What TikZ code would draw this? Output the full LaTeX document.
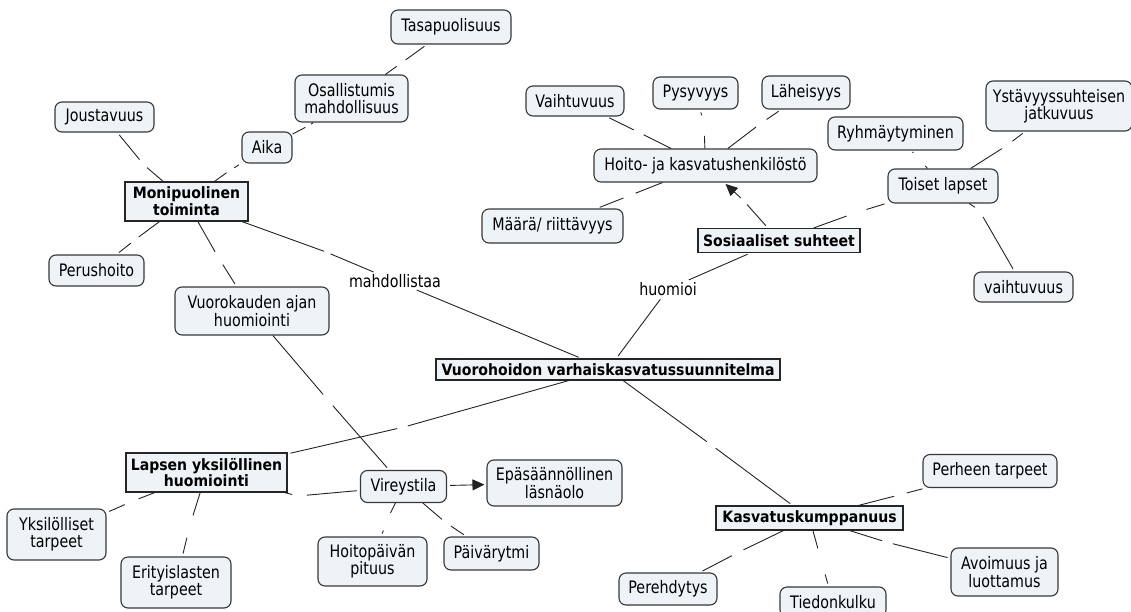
\documentclass[tikz,border=0pt]{standalone}
\usepackage{fontspec}
\setmainfont{DejaVu Sans}[FakeStretch=0.83]
\newfontfamily\bfam{DejaVu Sans}[FakeStretch=0.9]
\usetikzlibrary{arrows.meta}
\definecolor{fillc}{RGB}{237,243,246}
\definecolor{bordc}{RGB}{55,55,55}
\definecolor{linec}{RGB}{35,35,35}
\newcommand\nfnt{\fontsize{17.2}{17.4}\selectfont}
\newcommand\bfnt{\bfam\bfseries\fontsize{15.6}{16.8}\selectfont}
\newcommand\lnk[3]{\draw[link] (#1) -- (#2) -- (#3);}
\tikzset{
  concept/.style={draw=bordc, fill=fillc, rounded corners=7pt, line width=1.1pt,
    align=center, font=\nfnt, inner sep=0pt},
  keybox/.style={draw=black!85, fill=fillc, line width=1.1pt, align=center,
    font=\bfnt, inner sep=0pt},
  plainlbl/.style={font=\nfnt, inner sep=1pt},
  gapn/.style={circle, inner sep=0pt, outer sep=0pt, minimum size=#1},
  gapn/.default=8pt,
  link/.style={draw=linec, line width=0.9pt, shorten <=3pt, shorten >=3pt},
  arrowl/.style={link, -{Triangle[length=12pt,width=11pt]}}
}
\begin{document}
\begin{tikzpicture}[x=1pt,y=-1pt]
\useasboundingbox (0,0) rectangle (1131,612);
% concepts
\node[concept, minimum width=120pt, minimum height=34pt] (tas) at (451,27) {Tasapuolisuus};
\node[concept, minimum width=113pt, minimum height=47pt] (osa) at (351.5,98.5) {Osallistumis\\mahdollisuus};
\node[concept, minimum width=99pt, minimum height=30pt] (jou) at (104.5,117) {Joustavuus};
\node[concept, minimum width=50pt, minimum height=31pt] (aika) at (267,147.5) {Aika};
\node[keybox, minimum width=123pt, minimum height=39pt] (mon) at (186.5,201.5) {Monipuolinen\\toiminta};
\node[concept, minimum width=95pt, minimum height=31pt] (per) at (96.5,270.5) {Perushoito};
\node[concept, minimum width=154pt, minimum height=48pt] (vuo) at (252,311) {Vuorokauden ajan\\huomiointi};
\node[concept, minimum width=98pt, minimum height=30pt] (vai) at (575,101) {Vaihtuvuus};
\node[concept, minimum width=85pt, minimum height=32pt] (pys) at (695.5,93) {Pysyvyys};
\node[concept, minimum width=88pt, minimum height=33pt] (lah) at (806,92.5) {Läheisyys};
\node[concept, minimum width=223pt, minimum height=33pt] (hoi) at (705.5,165.5) {Hoito- ja kasvatushenkilöstö};
\node[concept, minimum width=141pt, minimum height=34pt] (maa) at (552.5,226) {Määrä/ riittävyys};
\node[concept, minimum width=135pt, minimum height=33pt] (ryh) at (895.5,133.5) {Ryhmäytyminen};
\node[concept, minimum width=146pt, minimum height=50pt] (yst) at (1059,106) {Ystävyyssuhteisen\\jatkuvuus};
\node[concept, minimum width=110pt, minimum height=34pt] (toi) at (943,186) {Toiset lapset};
\node[keybox, minimum width=162pt, minimum height=24pt] (sos) at (779,240.5) {Sosiaaliset suhteet};
\node[concept, minimum width=99pt, minimum height=30pt] (vai2) at (1023.5,287) {vaihtuvuus};
\node[keybox, minimum width=344pt, minimum height=21pt] (vrh) at (608,369.5) {Vuorohoidon varhaiskasvatussuunnitelma};
\node[keybox, minimum width=161pt, minimum height=39pt] (lap) at (206.5,472.5) {Lapsen yksilöllinen\\huomiointi};
\node[concept, minimum width=86pt, minimum height=32pt] (vir) at (403.5,486.5) {Vireystila};
\node[concept, minimum width=135pt, minimum height=46pt] (epa) at (554.5,483) {Epäsäännöllinen\\läsnäolo};
\node[concept, minimum width=99pt, minimum height=51pt] (yks) at (56.5,534.5) {Yksilölliset\\tarpeet};
\node[concept, minimum width=110pt, minimum height=51pt] (eri) at (176,582.5) {Erityislasten\\tarpeet};
\node[concept, minimum width=109pt, minimum height=49pt] (hpp) at (372.5,561.5) {Hoitopäivän\\pituus};
\node[concept, minimum width=95pt, minimum height=33pt] (pai) at (491.5,553.5) {Päivärytmi};
\node[keybox, minimum width=187pt, minimum height=24pt] (kas) at (809.5,518) {Kasvatuskumppanuus};
\node[concept, minimum width=134pt, minimum height=33pt] (phe) at (990,471) {Perheen tarpeet};
\node[concept, minimum width=107pt, minimum height=48pt] (avo) at (1004.5,572) {Avoimuus ja\\luottamus};
\node[concept, minimum width=98pt, minimum height=32pt] (pre) at (668,589) {Perehdytys};
\node[concept, minimum width=106pt, minimum height=30pt] (tie) at (833,602) {Tiedonkulku};
% linking phrases
\node[plainlbl] (mah) at (395,281) {mahdollistaa};
\node[plainlbl] (huo) at (668,289) {huomioi};
% gaps
\node[gapn] (g1) at (144,165) {};
\node[gapn=6pt] (g2) at (229,171) {};
\node[gapn=6pt] (g3) at (308,126) {};
\node[gapn=8pt] (g4) at (400,64) {};
\node[gapn=7pt] (g5) at (136,239) {};
\node[gapn=12pt] (g6) at (218,257) {};
\node[gapn=4pt] (g7) at (326,252) {};
\node[gapn=8pt] (g8) at (640,133) {};
\node[gapn=24pt] (g9) at (704,124) {};
\node[gapn=10pt] (g10) at (760,124) {};
\node[gapn=10pt] (g11) at (631,195) {};
\node[gapn=6pt] (g12) at (743,200) {};
\node[gapn=18pt] (g13) at (855,213) {};
\node[gapn=16pt] (g14) at (920,160) {};
\node[gapn=10pt] (g15) at (1006,146) {};
\node[gapn=10pt] (g16) at (979,210) {};
\node[gapn=8pt] (g18) at (404,427) {};
\node[gapn=8pt] (g19) at (710,444) {};
\node[gapn=12pt] (g20) at (327,399) {};
\node[gapn=12pt] (g21) at (298,496) {};
\node[gapn=12pt] (g22) at (133,501) {};
\node[gapn=20pt] (g23) at (190,525) {};
\node[gapn=16pt] (g25) at (387,520) {};
\node[gapn=8pt] (g26) at (445,522) {};
\node[gapn=10pt] (g27) at (899,495) {};
\node[gapn=8pt] (g28) at (886,542) {};
\node[gapn=10pt] (g29) at (739,552) {};
\node[gapn=24pt] (g30) at (821,560) {};
% connectors
\lnk{mon}{g1}{jou}
\lnk{mon}{g2}{aika}
\lnk{aika}{g3}{osa}
\lnk{osa}{g4}{tas}
\lnk{mon}{g5}{per}
\lnk{mon}{g6}{vuo}
\lnk{mon}{g7}{mah}
\draw[link] (mah) -- (vrh);
\lnk{hoi}{g8}{vai}
\lnk{hoi}{g9}{pys}
\lnk{hoi}{g10}{lah}
\lnk{hoi}{g11}{maa}
\draw[link] (sos) -- (g12);
\draw[arrowl, shorten <=0pt, shorten >=2pt] (g12) -- (hoi);
\lnk{sos}{g13}{toi}
\lnk{toi}{g14}{ryh}
\lnk{toi}{g15}{yst}
\lnk{toi}{g16}{vai2}
\draw[link] (sos) -- (huo);
\draw[link] (huo) -- (vrh);
\lnk{vrh}{g18}{lap}
\lnk{vrh}{g19}{kas}
\lnk{vuo}{g20}{vir}
\lnk{lap}{g21}{vir}
\lnk{lap}{g22}{yks}
\lnk{lap}{g23}{eri}
\draw[arrowl, shorten >=2pt] (vir) -- (epa);
\lnk{vir}{g25}{hpp}
\lnk{vir}{g26}{pai}
\lnk{kas}{g27}{phe}
\lnk{kas}{g28}{avo}
\lnk{kas}{g29}{pre}
\lnk{kas}{g30}{tie}
\end{tikzpicture}
\end{document}
